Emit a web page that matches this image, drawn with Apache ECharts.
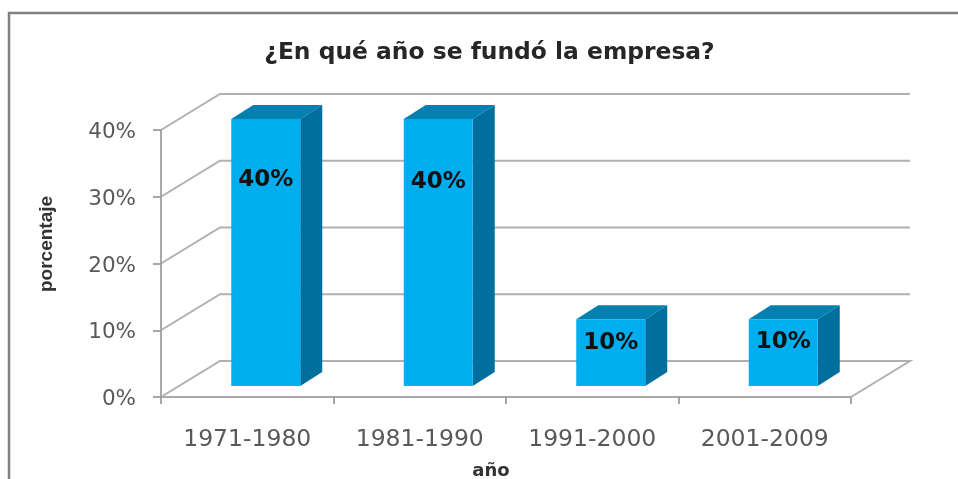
<!DOCTYPE html>
<html>
<head>
<meta charset="utf-8">
<style>html,body{margin:0;padding:0;background:#fff}#c{width:958px;height:479px}</style>
<script src="https://cdn.jsdelivr.net/npm/echarts@6/dist/echarts.min.js"></script>
</head>
<body>
<div id="c"></div>
<script>
const titleText = '¿En qué año se fundó la empresa?';
const categories = ['1971-1980', '1981-1990', '1991-2000', '2001-2009'];
const values = [40, 40, 10, 10];
const yTicks = [0, 10, 20, 30, 40];
const yAxisName = 'porcentaje';
const xAxisName = 'año';

// 3D look (style constants)
const wall = { dx: 59, dy: -36 };
const bar = { shiftX: 18.5, shiftY: -11, width: 69, dx: 22, dy: -14 };
const labelDrop = [61, 63, 24, 23];
const gridColor = '#b0b0b0', axisColor = '#8c8c8c', textColor = '#595959';
const font = '"DejaVu Sans"';

const chart = echarts.init(document.getElementById('c'), null, { renderer: 'canvas' });
chart.setOption({
  animation: false,
  backgroundColor: '#fff',
  title: {
    text: titleText, left: 484.5, top: 36, textAlign: 'center',
    textStyle: { fontFamily: font, fontSize: 23.4, fontWeight: 'bold', color: '#262626' }
  },
  graphic: [{
    type: 'polyline', silent: true, z: 0,
    shape: { points: [[9, 479], [9, 13], [958, 13]] },
    style: { stroke: '#808080', lineWidth: 2.5, fill: 'none' }
  }],
  grid: { left: 161, right: 107, top: 130, bottom: 82, outerBoundsMode: 'none' },
  xAxis: {
    type: 'category', data: categories,
    name: xAxisName, nameLocation: 'middle', nameGap: 65,
    nameTextStyle: { fontFamily: font, fontSize: 18, fontWeight: 'bold', color: '#333', padding: [0, 30, 0, 0] },
    axisLine: { lineStyle: { color: axisColor, width: 1.5 } },
    axisTick: { show: true, length: 7, lineStyle: { color: axisColor, width: 1.5 } },
    axisLabel: { interval: 0, margin: 31, fontFamily: font, fontSize: 23.5, color: textColor },
    splitLine: { show: false }
  },
  yAxis: {
    type: 'value', min: 0, max: 40, interval: 10,
    name: yAxisName, nameLocation: 'middle', nameGap: 105, nameRotate: 90,
    nameTextStyle: { fontFamily: '"Liberation Sans"', fontSize: 19, fontWeight: 'bold', color: '#333', padding: [0, 0, 0, 39] },
    axisLine: { show: true, lineStyle: { color: axisColor, width: 1.5 } },
    axisTick: { show: true, length: 8, lineStyle: { color: axisColor, width: 1.5 } },
    axisLabel: {
      margin: 25, formatter: '{p|{value}%}', fontFamily: font, fontSize: 21.5, color: textColor,
      rich: { p: { fontFamily: font, fontSize: 21.5, color: textColor, padding: [5, 0, 0, 0] } }
    },
    splitLine: { show: false }
  },
  series: [
    {
      type: 'custom', z: 1, silent: true,
      data: yTicks.map(v => [0, v]),
      renderItem(params, api) {
        const y = api.coord([0, api.value(1)])[1];
        const cs = params.coordSys;
        const x0 = cs.x, x1 = cs.x + cs.width;
        const pts = [[x0, y], [x0 + wall.dx, y + wall.dy], [x1 + wall.dx, y + wall.dy]];
        if (api.value(1) === 0) pts.push([x1, y]);
        return {
          type: 'polyline', shape: { points: pts },
          style: { stroke: gridColor, lineWidth: 2, fill: 'none' }
        };
      }
    },
    {
      type: 'custom', z: 3, silent: true,
      data: values.map((v, i) => [i, v]),
      renderItem(params, api) {
        const i = api.value(0), v = api.value(1);
        const c = api.coord([i, v]), base = api.coord([i, 0]);
        const l = c[0] + bar.shiftX - bar.width / 2, r = l + bar.width;
        const t = c[1] + bar.shiftY, b = base[1] + bar.shiftY;
        const d = bar.dx, e = bar.dy;
        return {
          type: 'group',
          children: [
            { type: 'polygon', shape: { points: [[l, t], [l + d, t + e], [r + d, t + e], [r, t]] }, style: { fill: '#0480b0' } },
            { type: 'polygon', shape: { points: [[r, t], [r + d, t + e], [r + d, b + e], [r, b]] }, style: { fill: '#006f9e' } },
            { type: 'rect', shape: { x: l, y: t, width: bar.width, height: b - t }, style: { fill: '#00aeef' } },
            { type: 'text', style: {
                text: v + '%', x: l + bar.width / 2, y: t + labelDrop[params.dataIndex],
                align: 'center', verticalAlign: 'middle',
                font: 'bold 23px ' + font, fill: '#111'
            } }
          ]
        };
      }
    }
  ]
});
</script>
</body>
</html>
